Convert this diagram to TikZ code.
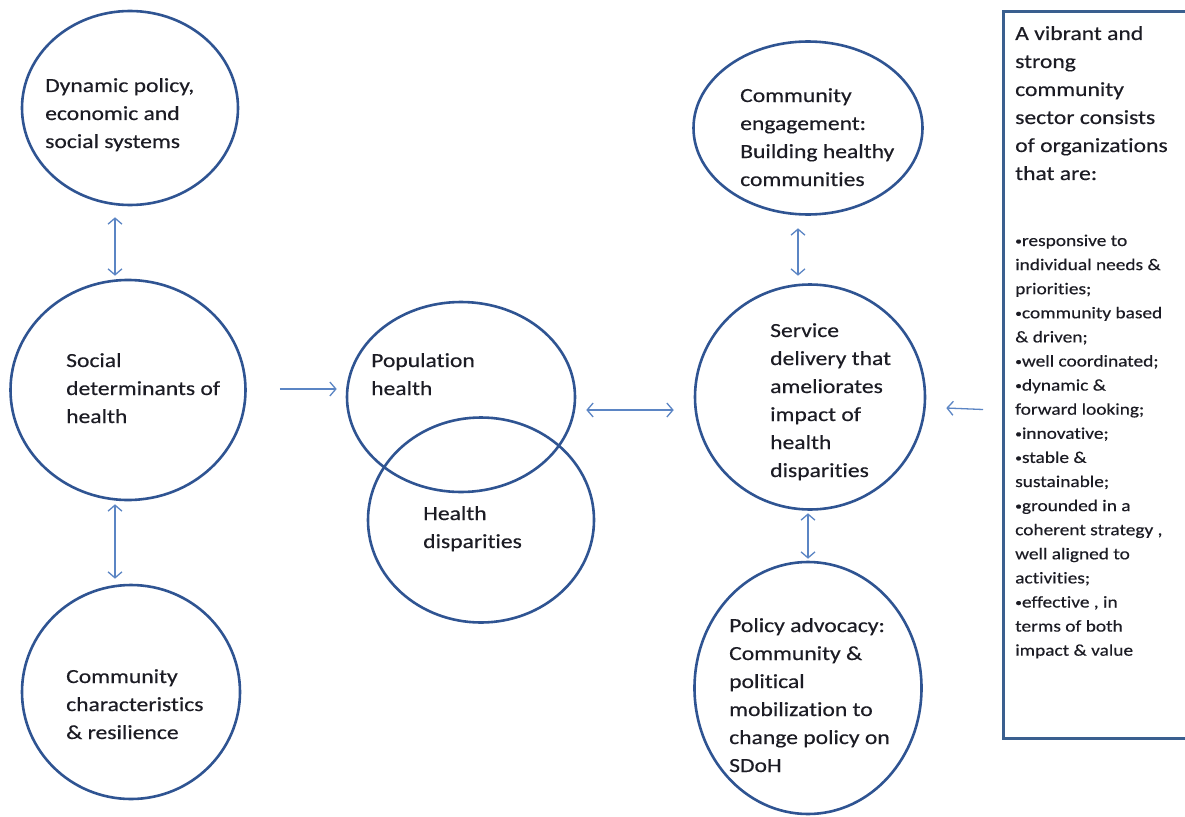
\documentclass[tikz,border=0pt]{standalone}
\usepackage{fontspec}
\setmainfont{Carlito}[FakeStretch=1.18, FakeBold=0.4, Ligatures=NoCommon]
\usetikzlibrary{shapes.geometric,arrows.meta}
\definecolor{circ}{HTML}{2F5492}
\definecolor{arr}{HTML}{5B85C4}
\definecolor{boxc}{HTML}{3A5F8F}
\definecolor{txtc}{HTML}{1C1C24}
\newcommand{\lns}[1]{\begin{tabular}[t]{@{}l@{}}#1\end{tabular}}
\newcommand{\bul}{\raisebox{1.2pt}{\scalebox{0.7}{•}}}
\tikzset{
  circnode/.style={draw=circ, line width=2.6pt, shape=ellipse, inner sep=0pt},
  txt/.style={anchor=base west, inner sep=0pt, text=txtc, font=\fontsize{20}{28}\selectfont},
  btxt/.style={anchor=base west, inner sep=0pt, text=txtc, font=\fontsize{16.4}{24.1}\selectfont},
  dbl/.style={draw=arr, line width=1.3pt, {Straight Barb[length=6pt,width=14pt]}-{Straight Barb[length=6pt,width=14pt]}},
  sgl/.style={draw=arr, line width=1.3pt, -{Straight Barb[length=6pt,width=14pt]}},
}
\begin{document}
\begin{tikzpicture}[x=1pt,y=-1pt]
\useasboundingbox (0,0) rectangle (1185,816);
\fill[white] (0,0) rectangle (1185,816);
% ellipses
\node[circnode, minimum width=216pt, minimum height=194pt] (e1) at (130,108) {};
\node[circnode, minimum width=235pt, minimum height=220pt] (e2) at (128,390) {};
\node[circnode, minimum width=218pt, minimum height=214pt] (e3) at (131,692) {};
\node[circnode, minimum width=228pt, minimum height=190pt] (pop) at (461,397) {};
\node[circnode, minimum width=226pt, minimum height=205pt] (hd) at (481,520) {};
\node[circnode, minimum width=229pt, minimum height=173pt] (ce) at (808,128) {};
\node[circnode, minimum width=230pt, minimum height=225pt] (svc) at (810,397) {};
\node[circnode, minimum width=227pt, minimum height=252pt] (pa) at (808,688) {};
\node[draw=boxc, line width=3pt, anchor=north west, minimum width=190pt, minimum height=727pt, inner sep=0pt] (box) at (1002,10) {};
% texts
\node[txt] (t1) at (45,92) {\lns{Dynamic policy,\\economic and\\social systems}};
\node[txt] (t2) at (66,367) {\lns{Social\\determinants of\\health}};
\node[txt] (t3) at (66,683) {\lns{Community\\characteristics\\\& resilience}};
\node[txt] (t4) at (371,367) {\lns{Population\\health}};
\node[txt] (t5) at (423,520) {\lns{Health\\disparities}};
\node[txt] (t6) at (740,102) {\lns{Community\\engagement:\\Building healthy\\communities}};
\node[txt] (t7) at (770,337) {\lns{Service\\delivery that\\ameliorates\\impact of\\health\\disparities}};
\node[txt] (t8) at (729,632) {\lns{Policy advocacy:\\Community \&\\political\\mobilization to\\change policy on\\SDoH}};
\node[txt] (t9) at (1015,40) {\lns{A vibrant and\\strong\\community\\sector consists\\of organizations\\that are:}};
\node[btxt] (t10) at (1015,246) {\lns{\bul responsive to\\individual needs \&\\priorities;\\\bul community based\\\& driven;\\\bul well coordinated;\\\bul dynamic \&\\forward looking;\\\bul innovative;\\\bul stable \&\\sustainable;\\\bul grounded in a\\coherent strategy ,\\well aligned to\\activities;\\\bul effective , in\\terms of both\\impact \& value}};
% connectors
\draw[dbl] ([xshift=-15pt,yshift=-11pt]e1.south) -- ([xshift=-13pt,yshift=3pt]e2.north);
\draw[dbl] ([xshift=-13pt,yshift=-3pt]e2.south) -- ([xshift=-16pt,yshift=5pt]e3.north);
\draw[sgl] ([xshift=33pt,yshift=1pt]e2.east) -- ([xshift=-9pt,yshift=8pt]pop.west);
\draw[dbl] ([xshift=10pt,yshift=-13pt]pop.east) -- ([xshift=-20pt,yshift=-13pt]svc.west);
\draw[dbl] ([xshift=-10pt,yshift=-12.5pt]ce.south) -- ([xshift=-12pt,yshift=7.5pt]svc.north);
\draw[dbl] ([xshift=-2pt,yshift=-2.5pt]svc.south) -- ([yshift=2pt]pa.north);
\draw[sgl] ([xshift=-19pt,yshift=-34.5pt]box.west) -- ([xshift=20pt,yshift=-11pt]svc.east);
\end{tikzpicture}
\end{document}
